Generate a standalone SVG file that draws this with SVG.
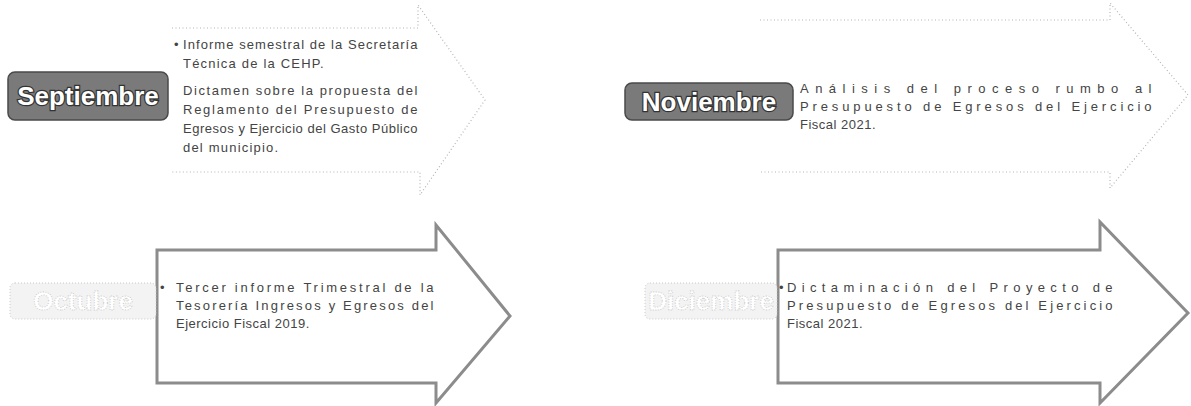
<svg xmlns="http://www.w3.org/2000/svg" width="1191" height="406" viewBox="0 0 1191 406">
<style>
.faint{fill:none;stroke:#b4b4b4;stroke-width:1.2;stroke-dasharray:1 2.5}
.solid{fill:#fff;stroke:#8c8c8c;stroke-width:3}
.lbl{fill:#7a7a7a;stroke:#4a4a4a;stroke-width:1.5}
.lbltxt{font-family:"Liberation Sans",Arial,sans-serif;font-weight:bold;font-size:26px;fill:#fff;stroke:#333;stroke-width:2.5;paint-order:stroke;text-anchor:middle}
.lblf{fill:#f3f3f3;stroke:#c8c8c8;stroke-width:1;stroke-dasharray:1 2}
.lblftxt{font-family:"Liberation Sans",Arial,sans-serif;font-weight:bold;font-size:26px;fill:#fff;stroke:#c4c4c4;stroke-width:0.8;stroke-dasharray:1 1.5;text-anchor:middle}
.t{font-family:"Liberation Sans",Arial,sans-serif;font-size:13px;letter-spacing:0.5px;fill:#444}
</style>
<g id="septiembre">
<path class="faint" d="M172,28 H418 V5 L485,100 L420,195 V172 H172"/>
<rect class="lbl" x="8" y="72" width="160" height="48" rx="7"/>
<text class="lbltxt" x="88" y="105">Septiembre</text>
<text class="t" x="174" y="49">•</text>
<text class="t" x="183" y="49" textLength="235" lengthAdjust="spacing">Informe semestral de la Secretaría</text>
<text class="t" x="183" y="68" style="letter-spacing:1.2px">Técnica de la CEHP.</text>
<text class="t" x="183" y="95" textLength="235" lengthAdjust="spacing">Dictamen sobre la propuesta del</text>
<text class="t" x="183" y="114" textLength="235" lengthAdjust="spacing">Reglamento del Presupuesto de</text>
<text class="t" x="183" y="133" textLength="235" lengthAdjust="spacing">Egresos y Ejercicio del Gasto Público</text>
<text class="t" x="183" y="152" style="letter-spacing:1.2px">del municipio.</text>
</g>
<g id="noviembre">
<path class="faint" d="M760,20 H1110 V3 L1188,95 L1110,188 V172 H760"/>
<rect class="lbl" x="625" y="83" width="168" height="37" rx="7"/>
<text class="lbltxt" x="709" y="111">Noviembre</text>
<text class="t" x="800" y="93" textLength="352" lengthAdjust="spacing">Análisis del proceso rumbo al</text>
<text class="t" x="800" y="111" textLength="352" lengthAdjust="spacing">Presupuesto de Egresos del Ejercicio</text>
<text class="t" x="800" y="129">Fiscal 2021.</text>
</g>
<g id="octubre">
<path class="solid" d="M157,250 H436 V225 L510,316 L436,403 V383 H157 Z"/>
<rect class="lblf" x="10" y="283" width="146" height="36" rx="5"/>
<text class="lblftxt" x="83" y="310">Octubre</text>
<text class="t" x="160" y="292">•</text>
<text class="t" x="176" y="292" textLength="258" lengthAdjust="spacing">Tercer informe Trimestral de la</text>
<text class="t" x="176" y="310" textLength="258" lengthAdjust="spacing">Tesorería  Ingresos y Egresos del</text>
<text class="t" x="176" y="328">Ejercicio Fiscal 2019.</text>
</g>
<g id="diciembre">
<path class="solid" d="M778,250 H1100 V222 L1188,313 L1100,403 V383 H778 Z"/>
<rect class="lblf" x="645" y="283" width="132" height="36" rx="5"/>
<text class="lblftxt" x="711" y="310">Diciembre</text>
<text class="t" x="779" y="292">•</text>
<text class="t" x="787" y="292" textLength="326" lengthAdjust="spacing">Dictaminación del Proyecto de</text>
<text class="t" x="787" y="310" textLength="326" lengthAdjust="spacing">Presupuesto de Egresos del Ejercicio</text>
<text class="t" x="787" y="328">Fiscal 2021.</text>
</g>
</svg>
